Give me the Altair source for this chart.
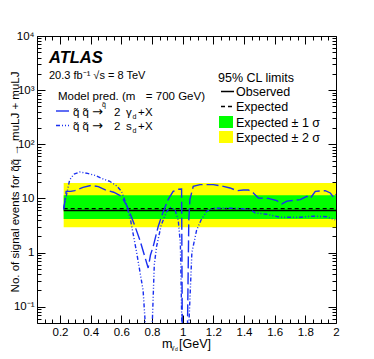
import altair as alt
import pandas as pd

# ---------------- data ----------------
band_x = [0.224, 2.0]
obs_y = [6.0, 6.0]
exp_y = [6.5, 6.5]
s1_lo, s1_hi = 4.15, 11.4
s2_lo, s2_hi = 2.95, 19.3

gd_x = [0.224, 0.24, 0.27, 0.296, 0.35, 0.405, 0.45, 0.492, 0.55, 0.601, 0.634, 0.656, 0.69, 0.721, 0.75,
        0.775, 0.79, 0.808, 0.84, 0.873, 0.905, 0.938, 0.97, 0.993, 0.998, 1.03, 1.04, 1.047, 1.069, 1.113,
        1.2, 1.265, 1.309, 1.353, 1.396, 1.429, 1.461, 1.494, 1.559, 1.614, 1.647, 1.68, 1.767, 1.81, 1.832,
        1.865, 1.93, 1.963, 1.985, 2.0]
gd_y = [6.2, 13.5, 13.5, 13.9, 16.0, 17.4, 16.5, 14.5, 13.0, 10.9, 7.5, 5.4, 3.0, 1.7, 0.9,
        0.52, 0.9, 1.3, 3.0, 5.7, 9.5, 13.5, 14.8, 14.9, 0.02, 0.02, 4.0, 9.5, 16.7, 18.0,
        18.0, 16.7, 15.6, 13.9, 14.3, 14.3, 12.6, 10.2, 10.0, 9.1, 7.9, 8.9, 9.5, 10.9, 10.0,
        13.5, 13.9, 12.6, 10.4, 12.0]

sd_x = [0.224, 0.263, 0.29, 0.329, 0.38, 0.427, 0.48, 0.525, 0.57, 0.601, 0.634, 0.66, 0.70, 0.742, 0.765,
        0.797, 0.815, 0.83, 0.86, 0.895, 0.92, 0.95, 0.971, 0.985, 0.997, 1.035, 1.06, 1.091, 1.12, 1.157,
        1.2, 1.33, 1.44, 1.472, 1.548, 1.635, 1.767, 1.85, 1.94, 1.995]
sd_y = [6.6, 22, 28, 30.8, 29, 26.7, 23, 20.6, 17, 13.5, 7.6, 4.0, 1.0, 0.2, 0.02,
        0.02, 0.6, 1.3, 3.2, 5.7, 6.8, 6.2, 4.0, 1.5, 0.02, 0.02, 1.0, 2.6, 4.0, 5.8,
        6.6, 6.6, 6.3, 5.4, 5.1, 4.5, 4.5, 4.7, 4.6, 4.0]

x_major = [0.2, 0.4, 0.6, 0.8, 1.0, 1.2, 1.4, 1.6, 1.8, 2.0]
x_minor = [0.05, 0.1, 0.15, 0.25, 0.3, 0.35, 0.45, 0.5, 0.55, 0.65, 0.7, 0.75, 0.85, 0.9, 0.95,
           1.05, 1.1, 1.15, 1.25, 1.3, 1.35, 1.45, 1.5, 1.55, 1.65, 1.7, 1.75, 1.85, 1.9, 1.95]
y_major = [0.1, 1, 10, 100, 1000, 10000]
y_labels = ["10⁻¹", "1", "10", "10²", "10³", "10⁴"]
y_minor = [0.06, 0.07, 0.08, 0.09, 0.2, 0.3, 0.4, 0.5, 0.6, 0.7, 0.8, 0.9,
           2, 3, 4, 5, 6, 7, 8, 9, 20, 30, 40, 50, 60, 70, 80, 90,
           200, 300, 400, 500, 600, 700, 800, 900, 2000, 3000, 4000, 5000, 6000, 7000, 8000, 9000]

FONT = "Liberation Sans"
BLUE = "#1a2ff0"
W, H = 299, 287
OX, OY = 37, 36  # page position of the plot origin

xs = alt.Scale(domain=[0.05, 2.0], nice=False, zero=False)
ys = alt.Scale(type="log", domain=[0.05, 10000], nice=False)

bands = pd.DataFrame({"x": [band_x[0]], "x2": [band_x[1]],
                      "lo1": [s1_lo], "hi1": [s1_hi], "lo2": [s2_lo], "hi2": [s2_hi]})
limits = pd.DataFrame({"x": band_x, "obs": obs_y, "exp": exp_y})
gd = pd.DataFrame({"x": gd_x, "y": gd_y})
sd = pd.DataFrame({"x": sd_x, "y": sd_y})
one = pd.DataFrame({"a": [0]})

lab_expr = " : ".join(
    [f"datum.value >= {v * 0.9} ? '{l}'" for v, l in reversed(list(zip(y_major, y_labels)))][:-1]
) + f" : '{y_labels[0]}'"


def ax(orient, values, size, labels=False, **kw):
    return alt.Axis(orient=orient, values=values, tickSize=size, offset=-size, domain=False, grid=False,
                    labels=labels, title=None, tickColor="black", tickWidth=1, **kw)


lab_kw = dict(labelFont=FONT, labelFontSize=11.5, labelColor="black", labelPadding=3,
              labelFlush=False, labelOverlap=False)

yellow = alt.Chart(bands).mark_rect(color="#ffff00").encode(
    x=alt.X("x:Q", scale=xs, axis=ax("bottom", x_major, 8, True, format="~g", **lab_kw)),
    x2="x2", y=alt.Y("lo2:Q", scale=ys, axis=ax("left", y_major, 8, True, labelExpr=lab_expr, **lab_kw)),
    y2="hi2")
green = alt.Chart(bands).mark_rect(color="#00ff00").encode(
    x=alt.X("x:Q", scale=xs, axis=ax("bottom", x_minor, 4)), x2="x2",
    y=alt.Y("lo1:Q", scale=ys, axis=ax("left", y_minor, 4)), y2="hi1")
ghost_a = alt.Chart(bands).mark_point(opacity=0).encode(
    x=alt.X("x:Q", scale=xs, axis=ax("top", x_major, 8)),
    y=alt.Y("lo1:Q", scale=ys, axis=ax("right", y_major, 8)))
ghost_b = alt.Chart(bands).mark_point(opacity=0).encode(
    x=alt.X("x:Q", scale=xs, axis=ax("top", x_minor, 4)),
    y=alt.Y("lo1:Q", scale=ys, axis=ax("right", y_minor, 4)))

obs = alt.Chart(limits).mark_line(color="black", strokeWidth=1.6).encode(
    x=alt.X("x:Q", scale=xs, axis=None), y=alt.Y("obs:Q", scale=ys, axis=None))
exp = alt.Chart(limits).mark_line(color="black", strokeWidth=1.3, strokeDash=[4, 3]).encode(
    x=alt.X("x:Q", scale=xs, axis=None), y=alt.Y("exp:Q", scale=ys, axis=None))
gd_line = alt.Chart(gd).mark_line(color=BLUE, strokeWidth=1.4, strokeDash=[12, 4], clip=True).encode(
    x=alt.X("x:Q", scale=xs, axis=None), y=alt.Y("y:Q", scale=ys, axis=None))
sd_line = alt.Chart(sd).mark_line(color=BLUE, strokeWidth=1.4, strokeDash=[4, 2, 1, 2, 1, 2], clip=True).encode(
    x=alt.X("x:Q", scale=xs, axis=None), y=alt.Y("y:Q", scale=ys, axis=None))


def txt(s, x, y, size=11.5, align="left", font=FONT, **kw):
    return alt.Chart(one).mark_text(text=s, align=align, baseline="alphabetic", font=font, fontSize=size,
                                    color="black", **kw).encode(x=alt.value(x - OX), y=alt.value(y - OY))


def rule(x1, x2, y, color, dash=None, width=1.4):
    kw = {"strokeDash": dash} if dash else {}
    return alt.Chart(one).mark_rule(color=color, strokeWidth=width, **kw).encode(
        x=alt.value(x1 - OX), x2=alt.value(x2 - OX), y=alt.value(y - OY))


def box(x1, x2, y1, y2, color):
    return alt.Chart(one).mark_rect(color=color).encode(
        x=alt.value(x1 - OX), x2=alt.value(x2 - OX), y=alt.value(y1 - OY), y2=alt.value(y2 - OY))


def decay_row(y, particle, line_dash):
    return [
        rule(56, 69, y - 4.5, BLUE, line_dash),
        txt("q̃ q̃", 73, y, 11.5),
        txt("→", 92, y, 13, font="DejaVu Sans"),
        txt("2", 114, y, 11.5),
        txt(particle, 126, y, 11.5),
        txt("d", 132.5, y + 3, 7),
        txt("+", 138, y, 11.5),
        txt("X", 145, y, 11.5),
    ]


annot = [
    txt("ATLAS", 49, 63, 16.5, fontWeight="bold", fontStyle="italic"),
    txt("20.3 fb⁻¹ √s = 8 TeV", 49, 79, 11),
    txt("Model pred. (m", 58, 99.5, 11.5),
    txt("q̃", 102, 106.5, 7),
    txt("= 700 GeV)", 205, 99.5, 11.5, align="right"),
    *decay_row(115.5, "γ", None),
    *decay_row(130, "s", [4, 2, 1, 2, 1, 2]),
    txt("95% CL limits", 218, 82, 12.5),
    rule(221, 234, 91.5, "black", None, 1.5),
    txt("Observed", 236, 96, 12.5),
    rule(221, 234, 106.5, "black", [4, 3], 1.3),
    txt("Expected", 236, 111, 12.5),
    box(219, 233, 116, 128, "#00ff00"),
    txt("Expected ± 1 σ", 236, 127, 12.5),
    box(219, 233, 131, 143, "#ffff00"),
    txt("Expected ± 2 σ", 236, 142, 12.5),
    txt("m", 162, 347.5, 12.5),
    txt("γ", 171, 349.5, 7),
    txt("d", 175, 350.5, 5),
    txt("[GeV]", 179, 347.5, 12.5),
    txt("No. of signal events for q̃q̃ → muLJ + muLJ", 19, 182, 11.5, align="center", angle=270),
]

chart = alt.layer(yellow, green, ghost_a, ghost_b, obs, exp, gd_line, sd_line, *annot).resolve_axis(
    x="independent", y="independent"
).properties(
    width=W, height=H, autosize=alt.AutoSizeParams(type="none"),
    padding={"left": 29, "top": 28, "right": 30, "bottom": 28},
).configure_view(stroke="black", strokeWidth=1)

chart.save("out.html", embed_options={"renderer": "svg", "actions": False})
